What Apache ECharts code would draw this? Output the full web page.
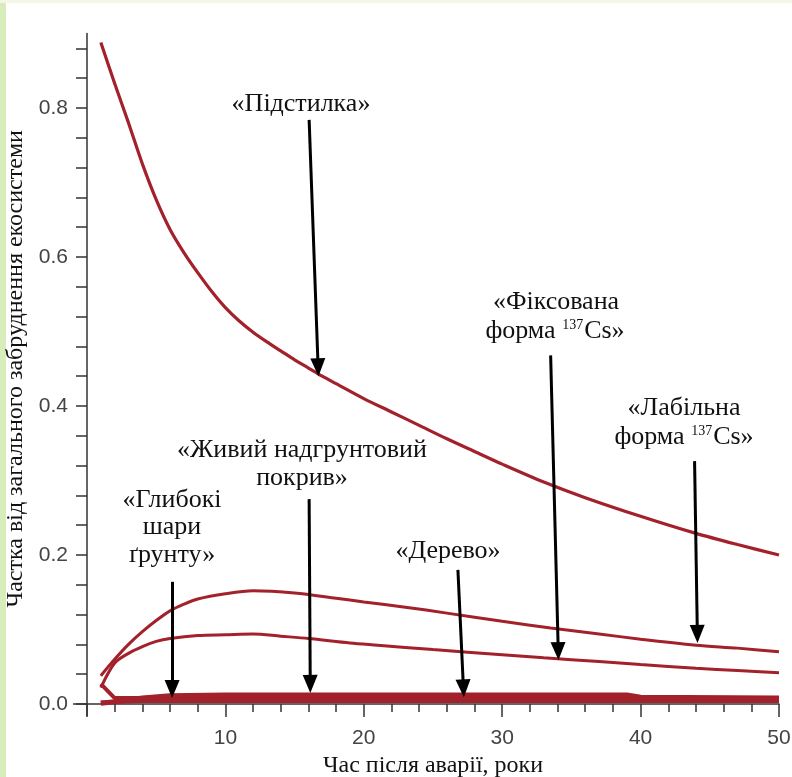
<!DOCTYPE html>
<html><head><meta charset="utf-8">
<script src="https://cdn.jsdelivr.net/npm/echarts@6/dist/echarts.min.js"></script>
<style>html,body{margin:0;padding:0;background:#fff}#c{width:792px;height:777px}</style>
</head><body><div id="c"></div><script>
// ---- data ----
const litterYears  = [1, 2, 3, 4, 5, 6, 7, 8, 9, 10, 11, 12, 13, 14, 15, 16, 17, 18, 20, 22, 24, 26, 28, 30, 33, 36, 40, 44, 47, 50];
const litterValues = [0.888, 0.833, 0.78, 0.725, 0.677, 0.637, 0.606, 0.579, 0.554, 0.532, 0.514, 0.499, 0.486, 0.474, 0.462, 0.451, 0.44, 0.43, 0.41, 0.392, 0.374, 0.356, 0.339, 0.322, 0.298, 0.277, 0.252, 0.229, 0.214, 0.2];

const labileYears  = [1, 2, 3, 4, 5, 6, 7, 8, 10, 12, 15, 18, 20, 23, 26, 30, 33.5, 37, 40, 44, 47, 50];
const labileValues = [0.038, 0.06, 0.08, 0.097, 0.112, 0.125, 0.134, 0.141, 0.148, 0.152, 0.149, 0.142, 0.137, 0.13, 0.122, 0.111, 0.102, 0.094, 0.087, 0.079, 0.075, 0.07];

const fixedYears  = [1, 2, 3, 4, 5, 6, 8, 10, 12, 14, 16, 19, 21, 25, 30, 33, 37, 40, 44, 47, 50];
const fixedValues = [0.022, 0.055, 0.068, 0.077, 0.084, 0.088, 0.092, 0.093, 0.094, 0.091, 0.088, 0.082, 0.079, 0.073, 0.066, 0.062, 0.057, 0.053, 0.048, 0.045, 0.042];

const lowYears       = [1, 2, 4, 6, 10, 20, 30, 39, 40, 50];
const coverValues    = [0.027, 0.008, 0.008, 0.009, 0.009, 0.009, 0.009, 0.009, 0.008, 0.006];
const deepSoilValues = [0.002, 0.003, 0.004, 0.004, 0.004, 0.004, 0.004, 0.004, 0.004, 0.004];
const woodValues     = [0.001, 0.003, 0.008, 0.011, 0.012, 0.012, 0.012, 0.012, 0.009, 0.008];

const xTickLabels = [10, 20, 30, 40, 50];
const yTickLabels = [0, 0.2, 0.4, 0.6, 0.8];

const xAxisTitle = 'Час після аварії, роки';
const yAxisTitle = 'Частка від загального забруднення екосистеми';

// annotation arrows: [from (year, share), to (year, share)]
const arrows = [
  [[16.05, 0.784], [16.7, 0.452]],
  [[33.5, 0.468], [34.05, 0.071]],
  [[43.9, 0.326], [44.1, 0.094]],
  [[16.05, 0.275], [16.13, 0.027]],
  [[6.15, 0.164], [6.15, 0.02]],
  [[26.8, 0.18], [27.2, 0.021]]
];

// ---- chart ----
const zip = (xs, ys) => xs.map((x, i) => [x, ys[i]]);
const RED = '#a3212b';
const chart = echarts.init(document.getElementById('c'), null, {renderer: 'canvas'});

const yMinor = [];
for (let i = 0; i <= 22; i++) yMinor.push(+(i * 0.04).toFixed(2));

const serif = 'Liberation Serif';
const sans = 'Liberation Sans';
const rich = {sup: {fontSize: 14, fontFamily: serif, verticalAlign: 'top', fill: '#111', padding: [0, 1, 0, 0]}};
function txt(text, x, y) {
  return {type: 'text', x: x, y: y, z: 100,
    style: {text: text, fontFamily: serif, fontSize: 26, fill: '#111', align: 'center', verticalAlign: 'middle', rich: rich}};
}

function lineSeries(name, data, width, smooth) {
  return {name: name, type: 'line', data: data, showSymbol: false, smooth: smooth,
    lineStyle: {color: RED, width: width}, itemStyle: {color: RED}, silent: true, z: 3};
}

const litter = lineSeries('Підстилка', zip(litterYears, litterValues), 3.2, 0.3);
litter.markLine = {
  silent: true, symbol: ['none', 'triangle'], symbolSize: [15, 18], label: {show: false},
  lineStyle: {color: '#000', width: 3, type: 'solid'}, emphasis: {disabled: true},
  data: arrows.map(a => [{coord: a[0]}, {coord: a[1]}]), z: 10
};

const graphics = [
  {type: 'rect', shape: {x: 0, y: 0, width: 6, height: 777}, style: {fill: '#d9ecbb'}, z: 0},
  {type: 'rect', shape: {x: 0, y: 0, width: 792, height: 3}, style: {fill: '#f3f7e4'}, z: 0},
  txt('«Підстилка»', 301, 104),
  txt('«Фіксована', 556, 302),
  txt('форма {sup|137}Cs»', 555, 331),
  txt('«Лабільна', 684, 408),
  txt('форма {sup|137}Cs»', 684, 437),
  txt('«Живий надгрунтовий', 302, 450),
  txt('покрив»', 302, 478),
  txt('«Глибокі', 172, 500),
  txt('шари', 172, 527),
  txt('ґрунту»', 172, 555),
  txt('«Дерево»', 448, 551)
];

chart.setOption({
  animation: false,
  backgroundColor: '#ffffff',
  grid: {left: 87, right: 13, top: 33.5, bottom: 73, outerBoundsMode: 'none', containLabel: false},
  xAxis: {
    type: 'value', min: 0, max: 50, interval: 10,
    name: xAxisTitle, nameLocation: 'middle', nameGap: 46,
    nameTextStyle: {fontFamily: serif, fontSize: 24, color: '#111'},
    axisLine: {lineStyle: {color: '#333', width: 1.5}},
    axisTick: {length: 13, lineStyle: {color: '#333', width: 1.5}},
    minorTick: {show: true, splitNumber: 5, length: 8, lineStyle: {color: '#333', width: 1.5}},
    axisLabel: {customValues: xTickLabels, margin: 24, fontFamily: sans, fontSize: 21, color: '#444'},
    splitLine: {show: false}, minorSplitLine: {show: false}
  },
  yAxis: {
    type: 'value', min: 0, max: 0.9,
    name: yAxisTitle, nameLocation: 'middle', nameRotate: 90, nameGap: 58,
    nameTextStyle: {fontFamily: serif, fontSize: 24, color: '#111'},
    axisLine: {show: true, lineStyle: {color: '#333', width: 1.5}},
    axisTick: {show: true, customValues: yMinor, length: 11, lineStyle: {color: '#333', width: 1.5}},
    axisLabel: {customValues: yTickLabels, margin: 19, formatter: v => v.toFixed(1),
      fontFamily: sans, fontSize: 21, color: '#444'},
    splitLine: {show: false}
  },
  series: [
    litter,
    lineSeries('Лабільна форма 137Cs', zip(labileYears, labileValues), 3, 0.3),
    lineSeries('Фіксована форма 137Cs', zip(fixedYears, fixedValues), 3, 0.3),
    lineSeries('Живий надгрунтовий покрив', zip(lowYears, coverValues), 4, false),
    lineSeries('Глибокі шари ґрунту', zip(lowYears, deepSoilValues), 4, false),
    lineSeries('Дерево', zip(lowYears, woodValues), 5, false)
  ],
  graphic: graphics
});

// small axis overshoots at the origin (axes cross), placed from the axis scale
const o = chart.convertToPixel({gridIndex: 0}, [0, 0]);
graphics.push(
  {type: 'line', shape: {x1: o[0] - 14, y1: o[1], x2: o[0], y2: o[1]}, style: {stroke: '#333', lineWidth: 1.5}, z: 5},
  {type: 'line', shape: {x1: o[0], y1: o[1], x2: o[0], y2: o[1] + 12}, style: {stroke: '#333', lineWidth: 1.5}, z: 5}
);
chart.setOption({graphic: graphics}, {replaceMerge: ['graphic']});
</script></body></html>
